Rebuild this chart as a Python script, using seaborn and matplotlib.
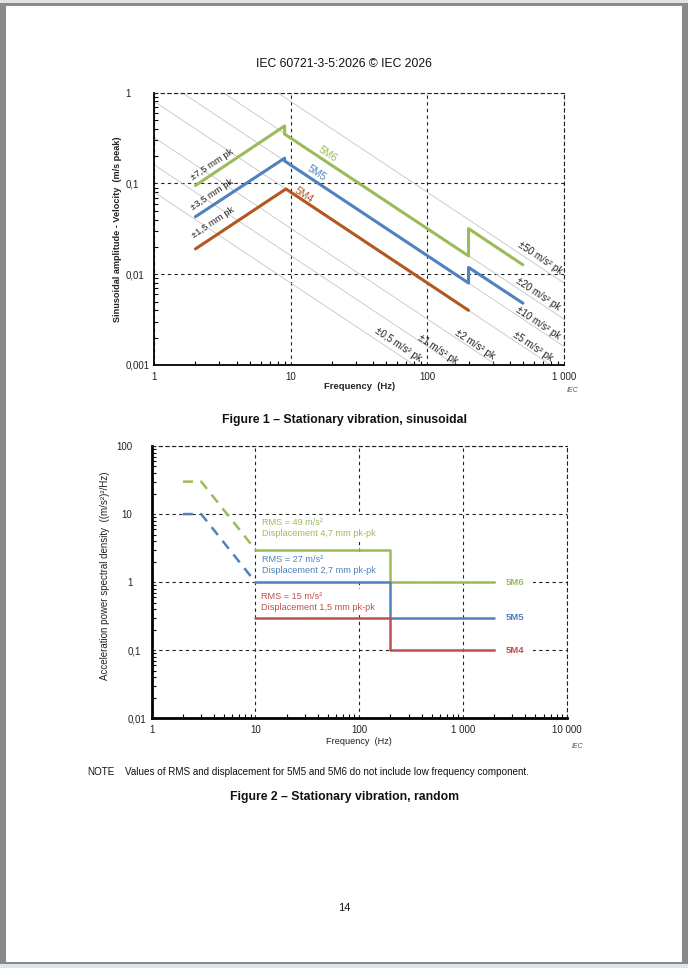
import matplotlib
matplotlib.use('Agg')
import matplotlib.pyplot as plt
import matplotlib.transforms as mtransforms
import seaborn as sns
from matplotlib.patches import Rectangle
from matplotlib.ticker import LogLocator, NullFormatter

# ---- Figure 1 data: sinusoidal velocity amplitude (m/s peak) vs frequency (Hz)
f_5m6 = [2, 9, 9, 200, 200, 500]
v_5m6 = [0.095, 0.43, 0.35, 0.0159, 0.0318, 0.0127]
f_5m5 = [2, 9, 9, 200, 200, 500]
v_5m5 = [0.043, 0.19, 0.177, 0.0080, 0.0119, 0.0048]
f_5m4 = [2, 9.2, 200]
v_5m4 = [0.019, 0.087, 0.0040]

# constant acceleration guide lines (end points at 1 Hz and 1000 Hz)
guide_f = [1, 1000]
guide_names = ['±0,5', '±1', '±2', '±5', '±10', '±20', '±50']
guide_v = [[0.08, 0.00008], [0.16, 0.00016], [0.32, 0.00032], [0.8, 0.0008],
           [1.6, 0.0016], [3.2, 0.0032], [8.0, 0.008]]
disp_names = ['±7,5 mm pk', '±3,5 mm pk', '±1,5 mm pk']

fig1_xticks = [1, 10, 100, 1000]
fig1_xlabels = ['1', '10', '100', '1 000']
fig1_yticks = [0.001, 0.01, 0.1, 1]
fig1_ylabels = ['0,001', '0,01', '0,1', '1']

# ---- Figure 2 data: acceleration PSD ((m/s2)2/Hz) vs frequency (Hz)
f_low = [2, 3, 10]
asd_5m6_low = [30, 30, 3]
asd_5m5_low = [10, 10, 1]
f_main = [10, 200, 200, 2000]
asd_5m6 = [3, 3, 1, 1]
asd_5m5 = [1, 1, 0.3, 0.3]
asd_5m4 = [0.3, 0.3, 0.1, 0.1]
rms_5m6 = 'RMS = 49 m/s²\nDisplacement 4,7 mm pk-pk'
rms_5m5 = 'RMS = 27 m/s²\nDisplacement 2,7 mm pk-pk'
rms_5m4 = 'RMS = 15 m/s²\nDisplacement 1,5 mm pk-pk'

fig2_xticks = [1, 10, 100, 1000, 10000]
fig2_xlabels = ['1', '10', '100', '1 000', '10 000']
fig2_yticks = [0.01, 0.1, 1, 10, 100]
fig2_ylabels = ['0,01', '0,1', '1', '10', '100']

GREEN = '#9BBB59'
BLUE = '#4F81BD'
BROWN = '#B5561E'
RED = '#C0504D'

sns.set_theme(style='white')
plt.rcParams['font.family'] = ['Liberation Sans', 'DejaVu Sans']

W, H = 688, 968
fig = plt.figure(figsize=(W / 100, H / 100), dpi=100)
fig.patch.set_facecolor('#8a8a8a')
fig.add_artist(Rectangle((6 / W, 1 - 962 / H), 676 / W, 956 / H, transform=fig.transFigure,
                         facecolor='white', edgecolor='none', zorder=-2))
fig.add_artist(Rectangle((0, 1 - 3 / H), 1, 3 / H, transform=fig.transFigure,
                         facecolor='#e2e2e2', edgecolor='none', zorder=-1))
fig.add_artist(Rectangle((0, 0), 1, 4 / H, transform=fig.transFigure,
                         facecolor='#dde4ec', edgecolor='none', zorder=-1))


def px(x, y):
    return x / W, 1 - y / H


def style_axes(ax, xt, xl, yt, yl, spine_w):
    ax.set_xscale('log')
    ax.set_yscale('log')
    ax.set_xlim(xt[0], xt[-1])
    ax.set_ylim(yt[0], yt[-1])
    ax.set_xticks(xt, labels=xl)
    ax.set_yticks(yt, labels=yl)
    ax.xaxis.set_minor_locator(LogLocator(base=10, subs=range(2, 10)))
    ax.yaxis.set_minor_locator(LogLocator(base=10, subs=range(2, 10)))
    ax.xaxis.set_minor_formatter(NullFormatter())
    ax.yaxis.set_minor_formatter(NullFormatter())
    ax.grid(True, which='major', color='#222222', ls=(0, (3, 3)), lw=0.8)
    for s in ['top', 'right']:
        ax.spines[s].set_linestyle((0, (3, 3)))
        ax.spines[s].set_linewidth(0.8)
        ax.spines[s].set_color('#222222')
    for s in ['left', 'bottom']:
        ax.spines[s].set_linewidth(spine_w)
        ax.spines[s].set_color('black')
    ax.tick_params(which='major', direction='inout', length=6, width=1,
                   labelsize=7, pad=2, color='black', labelcolor='#222222')
    ax.tick_params(which='minor', direction='in', length=3, width=0.8, color='black',
                   bottom=True, left=True)
    ax.set_facecolor('none')


def align_ylabels(ax, int_right, dec_left):
    # y tick labels lined up on the decimal comma, as in the original
    base = mtransforms.blended_transform_factory(ax.transAxes, ax.transData)
    x0 = ax.get_position().x0 * W
    for lab in ax.get_yticklabels():
        if ',' in lab.get_text():
            dx, ha = dec_left - x0, 'left'
        else:
            dx, ha = int_right - x0, 'right'
        lab.set_horizontalalignment(ha)
        lab.set_x(0)
        lab.set_transform(base + mtransforms.ScaledTranslation(dx / 100, 0, fig.dpi_scale_trans))


# ================= Figure 1 =================
ax1 = fig.add_axes([154.3 / W, 1 - 365 / H, 409.7 / W, 272.3 / H])
style_axes(ax1, fig1_xticks, fig1_xlabels, fig1_yticks, fig1_ylabels, 1.3)

for v in guide_v:
    sns.lineplot(x=guide_f, y=v, ax=ax1, color='#c0c0c0', lw=0.55,
                 estimator=None, sort=False, zorder=1)

sns.lineplot(x=f_5m6, y=v_5m6, ax=ax1, color=GREEN, lw=2.2, estimator=None, sort=False, zorder=3)
sns.lineplot(x=f_5m5, y=v_5m5, ax=ax1, color=BLUE, lw=2.2, estimator=None, sort=False, zorder=3)
sns.lineplot(x=f_5m4, y=v_5m4, ax=ax1, color=BROWN, lw=2.2, estimator=None, sort=False, zorder=3)

ang = 33.6
guide_pos = [(60.8, 0.00168), (119, 0.00148), (223, 0.00168), (592, 0.0016),
             (644, 0.00294), (644, 0.0060), (667, 0.0152)]
for name, (fx, vy) in zip(guide_names, guide_pos):
    ax1.text(fx, vy, name + ' m/s² pk', rotation=-ang, ha='center', va='center',
             fontsize=7, color='#222222', rotation_mode='anchor')
disp_pos = [(2.65, 0.16), (2.65, 0.075), (2.69, 0.037)]
for name, (fx, vy) in zip(disp_names, disp_pos):
    ax1.text(fx, vy, name, rotation=ang, ha='center', va='center',
             fontsize=6.8, color='#222222', rotation_mode='anchor')

ax1.text(18.7, 0.212, '5M6', rotation=-ang, ha='center', va='center', fontsize=7.5,
         color=GREEN, rotation_mode='anchor')
ax1.text(15.5, 0.131, '5M5', rotation=-ang, ha='center', va='center', fontsize=7.5,
         color=BLUE, rotation_mode='anchor')
ax1.text(12.5, 0.075, '5M4', rotation=-ang, ha='center', va='center', fontsize=7.5,
         color=BROWN, rotation_mode='anchor')

ax1.set_xlabel('Frequency  (Hz)', fontsize=6.8, fontweight='bold', color='#222222')
ax1.xaxis.set_label_coords(0.5, -0.062)
ax1.xaxis.label.set_va('top')
ax1.set_ylabel('Sinusoidal amplitude - Velocity  (m/s peak)', fontsize=6.6,
               fontweight='bold', color='#222222')
ax1.yaxis.set_label_coords(-0.079, 0.5)
fig.text(*px(578, 391), 'IEC', fontsize=5, style='italic', color='#555555',
         ha='right', va='center')

# ================= Figure 2 =================
ax2 = fig.add_axes([151.7 / W, 1 - 718.3 / H, 415 / W, 272.3 / H])
style_axes(ax2, fig2_xticks, fig2_xlabels, fig2_yticks, fig2_ylabels, 2.0)

dash = (0, (4, 3))
sns.lineplot(x=f_low, y=asd_5m6_low, ax=ax2, color=GREEN, lw=1.8, linestyle=dash,
             estimator=None, sort=False, zorder=3)
sns.lineplot(x=f_low, y=asd_5m5_low, ax=ax2, color=BLUE, lw=1.8, linestyle=dash,
             estimator=None, sort=False, zorder=3)
sns.lineplot(x=f_main, y=asd_5m6, ax=ax2, color=GREEN, lw=1.8, estimator=None, sort=False, zorder=3)
sns.lineplot(x=f_main, y=asd_5m5, ax=ax2, color=BLUE, lw=1.8, estimator=None, sort=False, zorder=3)
sns.lineplot(x=f_main, y=asd_5m4, ax=ax2, color=RED, lw=1.8, estimator=None, sort=False, zorder=3)

box = dict(facecolor='white', edgecolor='none', pad=2.5)
ax2.text(11.6, 6.2, rms_5m6, color=GREEN, fontsize=6.6, ha='left', va='center',
         linespacing=1.25, bbox=box, zorder=2)
ax2.text(11.5, 1.77, rms_5m5, color=BLUE, fontsize=6.6, ha='left', va='center',
         linespacing=1.25, bbox=box, zorder=2)
ax2.text(11.4, 0.51, rms_5m4, color=RED, fontsize=6.6, ha='left', va='center',
         linespacing=1.25, bbox=box, zorder=2)

lab_box = dict(facecolor='white', edgecolor='none', boxstyle='square,pad=0.9')
ax2.text(3190, 1, '5M6', color=GREEN, fontsize=6.8, fontweight='bold', ha='center',
         va='center', bbox=lab_box, zorder=2)
ax2.text(3190, 0.3, '5M5', color=BLUE, fontsize=6.8, fontweight='bold', ha='center',
         va='center', bbox=lab_box, zorder=2)
ax2.text(3190, 0.1, '5M4', color=RED, fontsize=6.8, fontweight='bold', ha='center',
         va='center', bbox=lab_box, zorder=2)

ax2.set_xlabel('Frequency  (Hz)', fontsize=6.6, color='#222222')
ax2.xaxis.set_label_coords(0.5, -0.068)
ax2.xaxis.label.set_va('top')
ax2.set_ylabel('Acceleration power spectral density  ((m/s²)²/Hz)', fontsize=7,
               color='#222222')
ax2.yaxis.set_label_coords(-0.1, 0.522)
fig.text(*px(583, 747), 'IEC', fontsize=5, style='italic', color='#555555',
         ha='right', va='center')

align_ylabels(ax1, 130.5, 125.5)
align_ylabels(ax2, 132.3, 127.2)

# ================= page text =================
fig.text(*px(344, 64), 'IEC 60721-3-5:2026 © IEC 2026', fontsize=8.7, ha='center',
         va='center', color='#111111')
fig.text(*px(344, 420), 'Figure 1 – Stationary vibration, sinusoidal', fontsize=8.8,
         fontweight='bold', ha='center', va='center', color='#111111')
fig.text(*px(87, 772), 'NOTE', fontsize=7.1, ha='left', va='center', color='#111111')
fig.text(*px(125, 772), 'Values of RMS and displacement for 5M5 and 5M6 do not include '
         'low frequency component.', fontsize=7.1, ha='left', va='center', color='#111111')
fig.text(*px(344, 797), 'Figure 2 – Stationary vibration, random', fontsize=8.8,
         fontweight='bold', ha='center', va='center', color='#111111')
fig.text(*px(344, 908), '14', fontsize=8, ha='center', va='center', color='#111111')

fig.savefig('out.png', dpi=100, facecolor=fig.get_facecolor())
